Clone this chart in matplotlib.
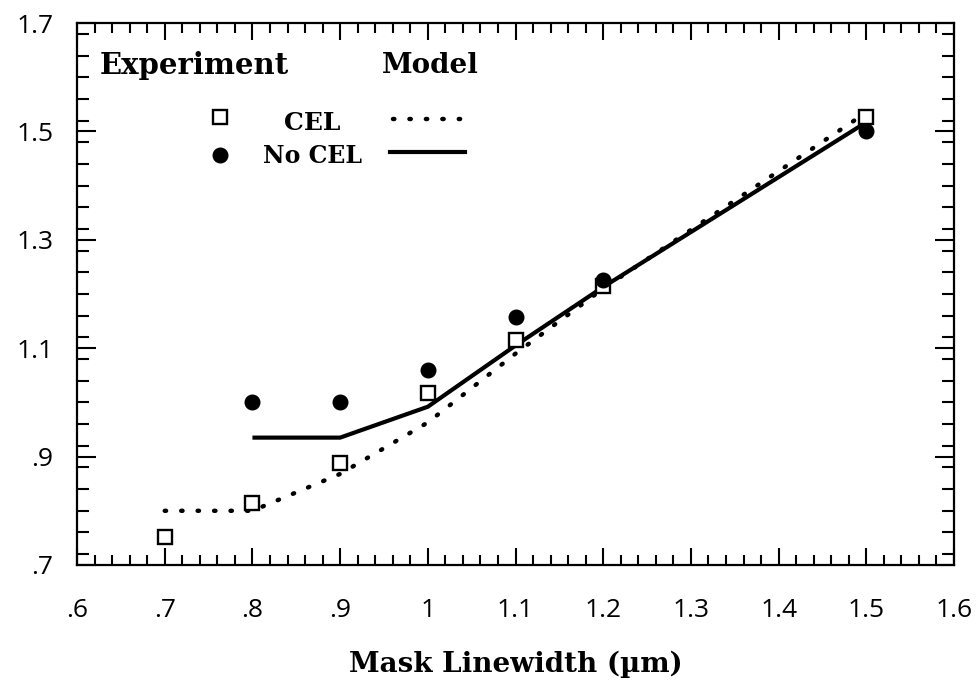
import matplotlib
matplotlib.use("Agg")
import matplotlib.pyplot as plt
from matplotlib.ticker import FixedLocator, MultipleLocator, FixedFormatter

# Experiment points
cel_x = [0.7, 0.8, 0.9, 1.0, 1.1, 1.2, 1.5]
cel_y = [0.752, 0.815, 0.889, 1.018, 1.116, 1.215, 1.527]
nocel_x = [0.8, 0.9, 1.0, 1.1, 1.2, 1.5]
nocel_y = [1.0, 1.0, 1.06, 1.158, 1.226, 1.501]

# Model curves
model_cel_x = [0.7, 0.8, 0.9, 1.0, 1.1, 1.2, 1.5]
model_cel_y = [0.80, 0.80, 0.868, 0.963, 1.09, 1.21, 1.535]
model_nocel_x = [0.8, 0.9, 1.0, 1.1, 1.2, 1.5]
model_nocel_y = [0.935, 0.935, 0.992, 1.105, 1.213, 1.517]

xticks = [0.6, 0.7, 0.8, 0.9, 1.0, 1.1, 1.2, 1.3, 1.4, 1.5, 1.6]
xlabels = [".6", ".7", ".8", ".9", "1", "1.1", "1.2", "1.3", "1.4", "1.5", "1.6"]
yticks = [0.7, 0.9, 1.1, 1.3, 1.5, 1.7]
ylabels = [".7", ".9", "1.1", "1.3", "1.5", "1.7"]

serif = "DejaVu Serif"
sans = "Open Sans"

fig = plt.figure(figsize=(9.79, 6.89), dpi=100)
ax = fig.add_axes([0.0787, 0.18, 0.8958, 0.7866])

ax.plot(model_cel_x, model_cel_y, color="black", lw=3.2, dashes=(0.3, 3.4),
        dash_capstyle="round")
ax.plot(model_nocel_x, model_nocel_y, color="black", lw=3,
        solid_capstyle="butt")
ax.plot(cel_x, cel_y, ls="none", marker="s", ms=10, mfc="white", mec="black",
        mew=1.7)
ax.plot(nocel_x, nocel_y, ls="none", marker="o", ms=10.5, color="black")

ax.set_xlim(0.6, 1.6)
ax.set_ylim(0.7, 1.7)
ax.xaxis.set_major_locator(FixedLocator(xticks))
ax.xaxis.set_major_formatter(FixedFormatter(xlabels))
ax.xaxis.set_minor_locator(MultipleLocator(0.02))
ax.yaxis.set_major_locator(FixedLocator(yticks))
ax.yaxis.set_major_formatter(FixedFormatter(ylabels))
ax.yaxis.set_minor_locator(MultipleLocator(0.04))

ax.tick_params(which="both", direction="in", top=True, right=True,
               width=1.5, color="black")
ax.tick_params(axis="x", which="major", length=12.5, labelsize=19, pad=24)
ax.tick_params(axis="x", which="minor", length=7)
ax.tick_params(axis="y", which="major", length=14, labelsize=19, pad=17)
ax.tick_params(axis="y", which="minor", length=8.5)
for lab in ax.get_xticklabels() + ax.get_yticklabels():
    lab.set_fontfamily(sans)
for sp in ax.spines.values():
    sp.set_linewidth(1.6)

ax.set_xlabel("Mask Linewidth (µm)", fontfamily=serif, fontweight="bold",
              fontsize=20)
ax.xaxis.set_label_coords(0.5, -0.158)

# hand-made legend
tr = ax.transAxes
ax.text(0.026, 0.922, "Experiment", transform=tr, fontfamily=serif,
        fontweight="bold", fontsize=21, va="center")
ax.text(0.348, 0.922, "Model", transform=tr, fontfamily=serif,
        fontweight="bold", fontsize=20, va="center")
ax.plot([0.163], [0.8266], transform=tr, ls="none", marker="s", ms=10,
        mfc="white", mec="black", mew=1.7)
ax.plot([0.163], [0.7565], transform=tr, ls="none", marker="o", ms=10.5,
        color="black")
ax.text(0.268, 0.815, "CEL", transform=tr, fontfamily=serif,
        fontweight="bold", fontsize=18, va="center", ha="center")
ax.text(0.212, 0.754, "No CEL", transform=tr, fontfamily=serif,
        fontweight="bold", fontsize=17, va="center")
ax.plot([0.360, 0.440], [0.823, 0.823], transform=tr, color="black", lw=3.2,
        dashes=(0.3, 3.4), dash_capstyle="round")
ax.plot([0.357, 0.442], [0.762, 0.762], transform=tr, color="black", lw=3)

fig.savefig("out.png", dpi=100)
